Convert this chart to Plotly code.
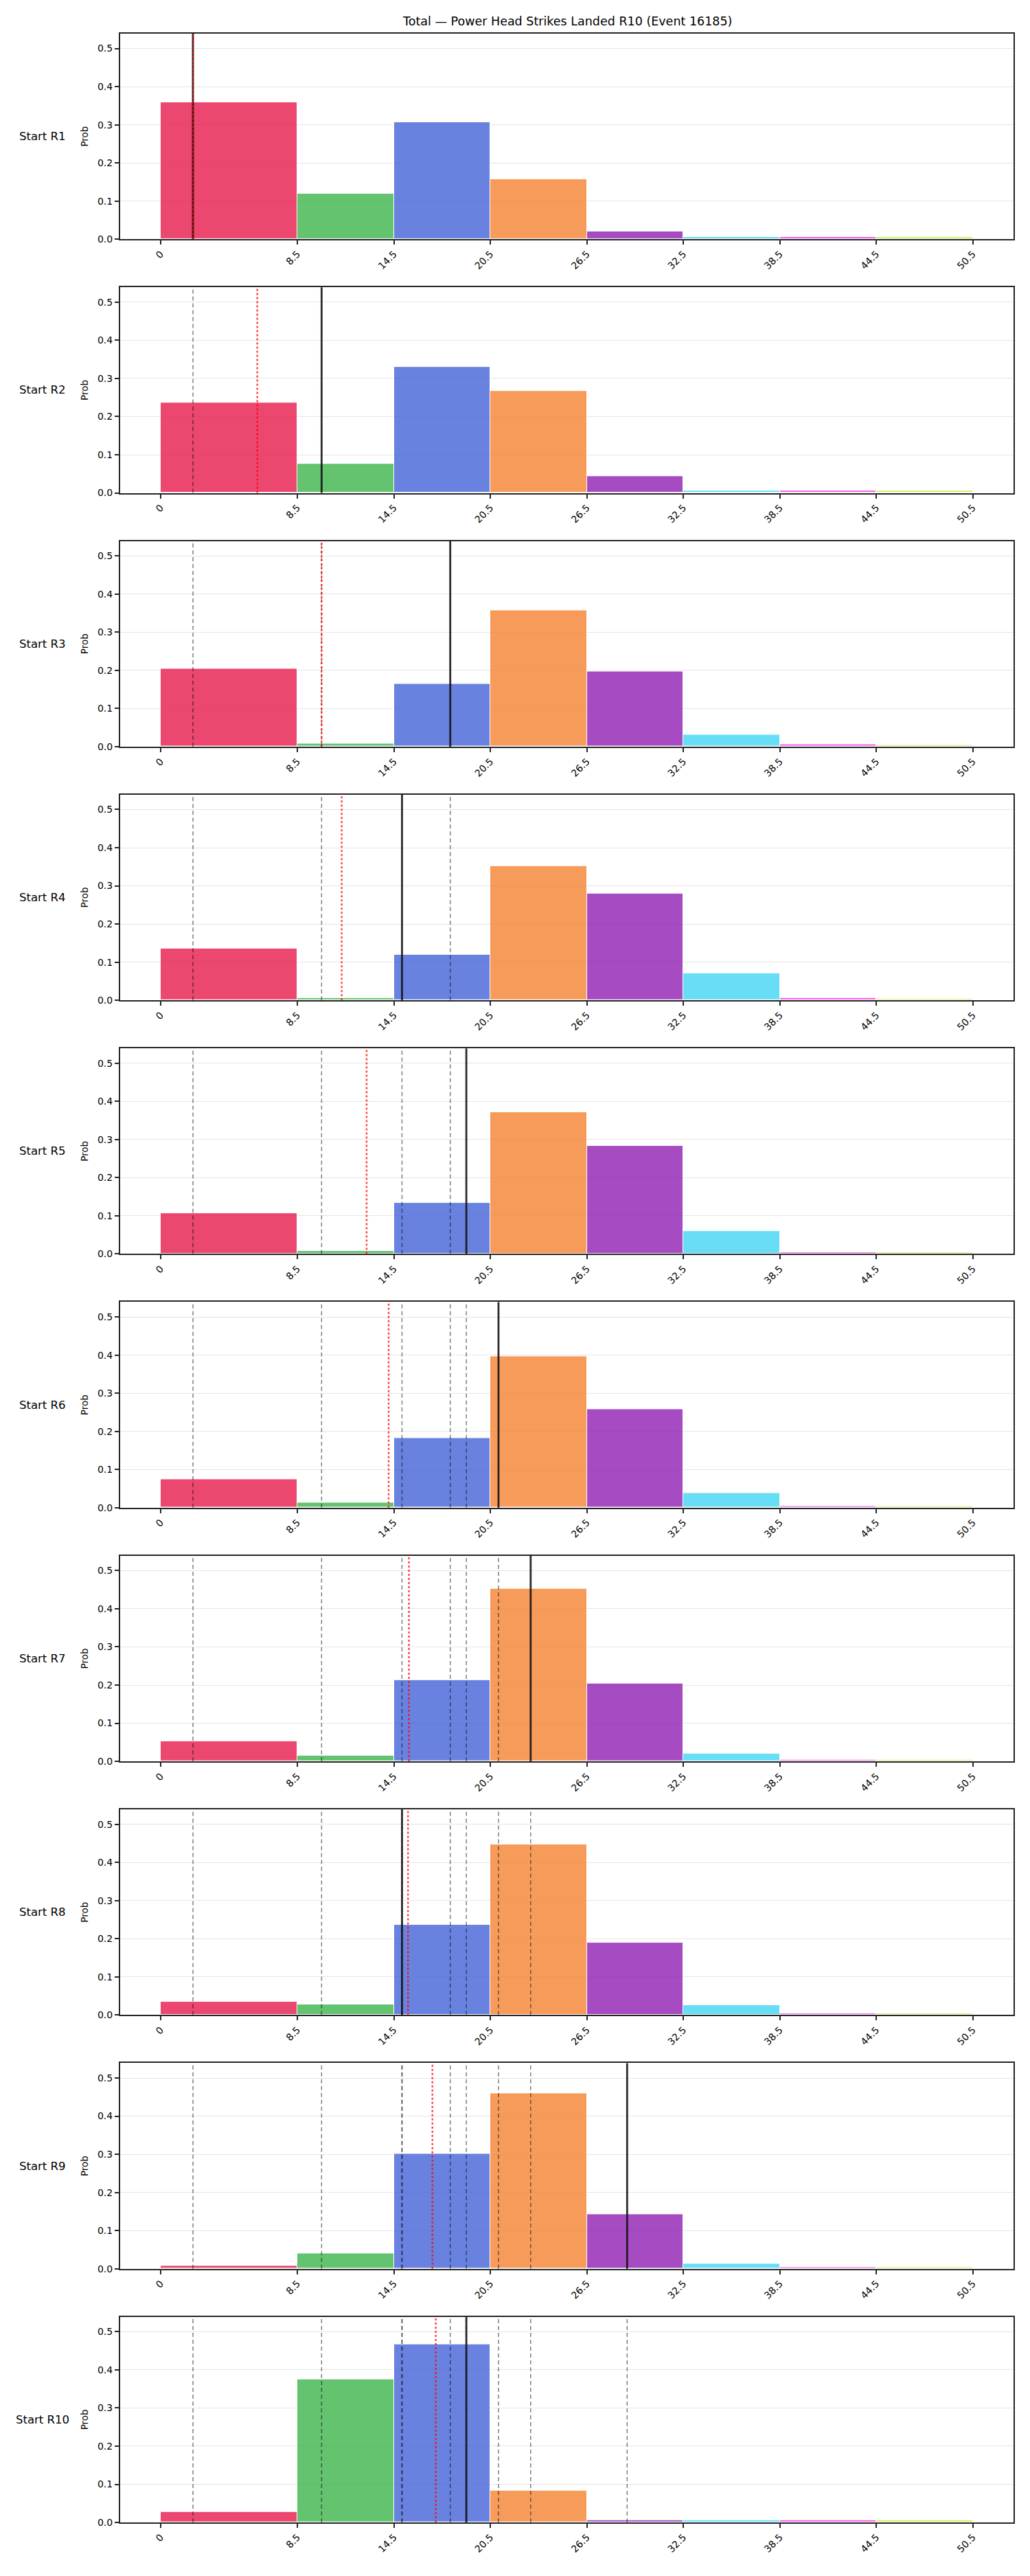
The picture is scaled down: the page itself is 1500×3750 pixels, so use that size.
import plotly.graph_objects as go

# ---------------- data ----------------
bin_edges = [0, 8.5, 14.5, 20.5, 26.5, 32.5, 38.5, 44.5, 50.5]
tick_labels = ["0", "8.5", "14.5", "20.5", "26.5", "32.5", "38.5", "44.5", "50.5"]
row_labels = ["Start R1", "Start R2", "Start R3", "Start R4", "Start R5",
              "Start R6", "Start R7", "Start R8", "Start R9", "Start R10"]

probs_r1 = [0.359, 0.119, 0.307, 0.157, 0.020, 0.006, 0.006, 0.006]
probs_r2 = [0.237, 0.076, 0.331, 0.268, 0.044, 0.006, 0.006, 0.006]
probs_r3 = [0.205, 0.008, 0.164, 0.357, 0.197, 0.031, 0.006, 0.004]
probs_r4 = [0.136, 0.006, 0.119, 0.351, 0.279, 0.070, 0.006, 0.004]
probs_r5 = [0.106, 0.008, 0.133, 0.372, 0.284, 0.060, 0.005, 0.004]
probs_r6 = [0.075, 0.013, 0.182, 0.397, 0.258, 0.039, 0.005, 0.004]
probs_r7 = [0.053, 0.015, 0.214, 0.453, 0.205, 0.021, 0.005, 0.004]
probs_r8 = [0.035, 0.027, 0.237, 0.447, 0.190, 0.026, 0.005, 0.004]
probs_r9 = [0.008, 0.041, 0.301, 0.459, 0.142, 0.013, 0.005, 0.004]
probs_r10 = [0.027, 0.375, 0.467, 0.083, 0.006, 0.006, 0.006, 0.006]
all_probs = [probs_r1, probs_r2, probs_r3, probs_r4, probs_r5,
             probs_r6, probs_r7, probs_r8, probs_r9, probs_r10]

# solid black line = value at that round; grey dashed = earlier rounds' values
round_values = [2, 10, 18, 15, 19, 21, 23, 15, 29, 19]
# red dotted line
running_means = [2.0, 6.0, 10.0, 11.25, 12.8, 14.17, 15.43, 15.375, 16.89, 17.1]

bin_colors = ["rgba(230,25,75,0.8)", "rgba(60,180,75,0.8)", "rgba(67,99,216,0.8)",
              "rgba(245,130,49,0.8)", "rgba(145,30,180,0.8)", "rgba(66,212,244,0.8)",
              "rgba(240,50,230,0.8)", "rgba(191,239,69,0.8)"]

title_text = "Total \u2014 Power Head Strikes Landed R10 (Event 16185)"

# ---------------- layout geometry ----------------
W, H = 1500, 3750
ax_left, ax_right = 175, 1476
top0, step, ax_h = 49, 370.1, 300
FONT = "DejaVu Sans, Verdana, sans-serif"
SPINE = "#262626"

centers = [(bin_edges[i] + bin_edges[i + 1]) / 2 for i in range(len(bin_edges) - 1)]
widths = [bin_edges[i + 1] - bin_edges[i] for i in range(len(bin_edges) - 1)]

fig = go.Figure()
layout = dict(
    width=W, height=H,
    margin=dict(l=0, r=0, t=0, b=0),
    paper_bgcolor="white", plot_bgcolor="white",
    showlegend=False,
    font=dict(family=FONT, color="black"),
    bargap=0,
)
shapes = []
annotations = []

for k, probs in enumerate(all_probs):
    n = k + 1
    xa = "x" if n == 1 else f"x{n}"
    ya = "y" if n == 1 else f"y{n}"
    top = top0 + step * k
    bottom = top + ax_h
    dom_y = [1 - bottom / H, 1 - top / H]

    fig.add_trace(go.Bar(
        x=centers, y=probs, width=widths,
        marker=dict(color=bin_colors, line=dict(color="white", width=1)),
        xaxis=xa, yaxis=ya, hoverinfo="x+y",
    ))

    layout[f"xaxis{n if n > 1 else ''}"] = dict(
        domain=[ax_left / W, ax_right / W], anchor=ya,
        range=[-2.525, 53.025],
        tickmode="array", tickvals=bin_edges, ticktext=tick_labels,
        tickangle=-45, tickfont=dict(size=14, family=FONT, color="black"),
        ticks="outside", ticklen=6, tickwidth=1.5, tickcolor=SPINE,
        showline=True, linecolor=SPINE, linewidth=2, mirror=True,
        showgrid=False, zeroline=False,
    )
    layout[f"yaxis{n if n > 1 else ''}"] = dict(
        domain=dom_y, anchor=xa,
        range=[0, 0.539],
        tickmode="array", tickvals=[0, 0.1, 0.2, 0.3, 0.4, 0.5],
        ticktext=["0.0", "0.1", "0.2", "0.3", "0.4", "0.5"],
        tickfont=dict(size=14, family=FONT, color="black"),
        ticks="outside", ticklen=6, tickwidth=1.5, tickcolor=SPINE,
        showline=True, linecolor=SPINE, linewidth=2, mirror=True,
        showgrid=True, gridcolor="#e5e5e5", gridwidth=1, zeroline=False,
    )

    # earlier rounds: grey dashed
    for v in round_values[:k]:
        shapes.append(dict(type="line", xref=xa, yref=f"{ya} domain",
                           x0=v, x1=v, y0=0, y1=1,
                           line=dict(color="rgba(0,0,0,0.5)", width=1.5, dash="6px,4px")))
    # current round: solid black
    v = round_values[k]
    shapes.append(dict(type="line", xref=xa, yref=f"{ya} domain",
                       x0=v, x1=v, y0=0, y1=1,
                       line=dict(color="rgba(20,20,20,0.9)", width=2.8)))
    # red dotted
    m = running_means[k]
    shapes.append(dict(type="line", xref=xa, yref=f"{ya} domain",
                       x0=m, x1=m, y0=0, y1=1,
                       line=dict(color="rgba(255,0,0,0.75)", width=2.4, dash="3px,3px")))

    mid = 1 - (top + ax_h / 2) / H
    annotations.append(dict(text=row_labels[k], xref="paper", yref="paper",
                            x=62 / W, y=mid, xanchor="center", yanchor="middle",
                            showarrow=False, font=dict(size=16.5, family=FONT, color="black")))
    annotations.append(dict(text="Prob", xref="paper", yref="paper",
                            x=123 / W, y=mid, xanchor="center", yanchor="middle",
                            textangle=-90, showarrow=False,
                            font=dict(size=13.5, family=FONT, color="black")))

annotations.append(dict(text=title_text, xref="paper", yref="paper",
                        x=((ax_left + ax_right) / 2) / W, y=1 - 31 / H,
                        xanchor="center", yanchor="middle", showarrow=False,
                        font=dict(size=17.5, family=FONT, color="black")))

layout["shapes"] = shapes
layout["annotations"] = annotations
fig.update_layout(**layout)
fig.write_html("out.html")
